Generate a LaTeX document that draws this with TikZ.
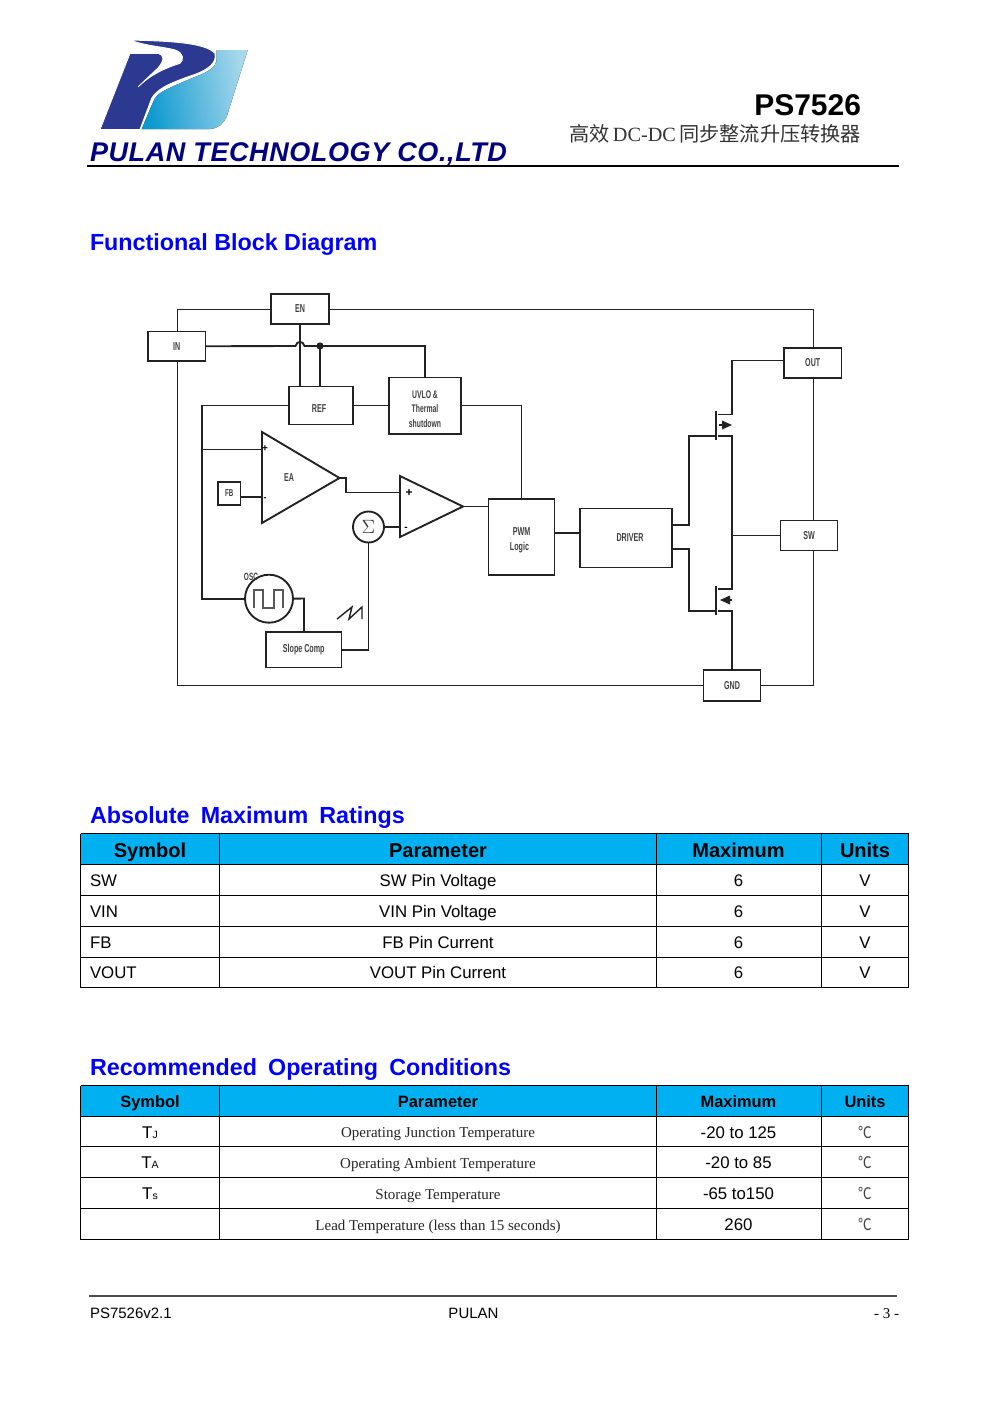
\documentclass[tikz,border=0pt]{standalone}
\usepackage{fontspec}
\setmainfont{Liberation Sans}
\newfontfamily\serf{Liberation Serif}
\newfontfamily\cjk{Noto Sans CJK SC}
\newfontfamily\narrowf[FakeStretch=0.62]{Liberation Sans}
\def\u{0.75pt}
\newcommand{\fs}[1]{\fontsize{\fpeval{#1*0.75}pt}{\fpeval{#1*0.9}pt}\selectfont}
\definecolor{hdr}{HTML}{00B0F0}
\definecolor{navyt}{HTML}{000080}
\definecolor{logod}{HTML}{2B3990}
\definecolor{ln}{HTML}{222222}
\definecolor{logoa}{HTML}{0B98CF}
\definecolor{logob}{HTML}{1A9DD2}
\definecolor{logoc}{HTML}{A8D8EC}
\tikzset{
  txt/.style={inner sep=0,outer sep=0,anchor=base},
  txtl/.style={inner sep=0,outer sep=0,anchor=base west},
  txtr/.style={inner sep=0,outer sep=0,anchor=base east},
  heading/.style={txtl,text=blue,font=\fs{23.3}\bfseries},
  hd1/.style={txt,font=\fs{20}\bfseries},
  hd2/.style={txt,font=\fs{16.4}\bfseries},
  bodyc/.style={txt,font=\fs{16.8}},
  bodyl/.style={txtl,font=\fs{16.8}},
  sercell/.style={txt,font=\fs{15}\serf,text=black!85},
  unitc/.style={txt,font=\fs{16}\cjk\addfontfeature{FakeStretch=0.85},text=black!75},
  dbox/.style={draw=ln,line width=1.4pt,fill=white,inner sep=0,outer sep=0,align=center,font=\fs{11.5}\narrowf\bfseries,text=black!75},
  wire/.style={draw=ln,line width=1.4pt,line join=miter},
  opamp/.style={draw=ln,line width=1.4pt,fill=white,line join=miter},
  tline/.style={draw=black,line width=0.85pt},
  tsym/.style={txt,font=\fs{17}},
}
\begin{document}
\begin{tikzpicture}[x=0.75pt,y=-0.75pt]
\path[use as bounding box,fill=white] (0,0) rectangle (991,1403);

% logo
\fill[left color=logoa,middle color=logob,right color=logoc,shading angle=100]
 (216.7,50) -- (247.7,50) -- (226.7,116.7) .. controls (223,124) and (219,128) .. (210,129)
 -- (141.7,129) -- (153.3,101.7) .. controls (157,93) and (162,91) .. (191.7,78.3)
 .. controls (205,73) and (217,69) .. (216.7,58) -- cycle;
\filldraw[fill=logod,draw=white,line width=0.7pt] (130,40) .. controls (165,41) and (205,42) .. (215,53.3)
 .. controls (217,62) and (210,70) .. (188.3,76.7)
 .. controls (165,85) and (157,90) .. (151.7,98.3) -- (140,129.5) -- (100,129.5) -- (130,53.3) -- (158.3,53.3)
 .. controls (164,55) and (165,60) .. (158,68) -- (138.3,86.7)
 .. controls (150,75) and (165,68) .. (180,63.3)
 .. controls (184,60) and (184,53) .. (175,50)
 .. controls (165,47) and (145,46) .. (130,40) -- cycle;
\node[txtl,text=navyt] (co) at (90,161.5) {\fs{27}\addfontfeature{LetterSpace=2.2}\bfseries\itshape PULAN TECHNOLOGY CO.,LTD};
\node[txtr] (ps) at (861,115.5) {\fs{30}\bfseries PS7526};
\node[txtr,text=black!80] (sub) at (861,141) {\fs{20.2}\cjk 高效\,{\serf DC-DC}\,同步整流升压转换器};
\draw[line width=1.5pt] (87,166) -- (899,166);

\node[heading] (h1) at (90,250) {Functional Block Diagram};
\node[heading] (h2) at (90,823) {Absolute\hspace{0.2em} Maximum\hspace{0.2em} Ratings};
\node[heading] (h3) at (90,1075) {Recommended\hspace{0.2em} Operating\hspace{0.2em} Conditions};

% block diagram
\draw[wire,line width=1pt] (177.5,309.5) rectangle (813.5,685.5);
\node[dbox,minimum width=58*\u,minimum height=30*\u] (EN) at (300,309) {EN};
\node[dbox,minimum width=57.5*\u,minimum height=29.5*\u] (IN) at (176.75,346.25) {IN};
\node[dbox,minimum width=64*\u,minimum height=38*\u] (REF) at (321,405.5) {\raisebox{-5.25pt}[0pt][0pt]{REF\hspace*{3pt}}};
\node[dbox,minimum width=72*\u,minimum height=56.5*\u,font=\fs{11}\narrowf\bfseries] (UVLO) at (425,405.75) {\mbox{}\\[0.6pt]UVLO \&\\[1pt]Thermal\\[1pt]shutdown};
\node[dbox,minimum width=22.5*\u,minimum height=23*\u,font=\fs{10}\narrowf\bfseries] (FB) at (229.25,493.5) {FB};
\node[dbox,minimum width=66*\u,minimum height=76*\u,font=\fs{11.5}\narrowf\bfseries] (PWM) at (521.5,537) {\mbox{}\\[0.2pt]PWM\hspace*{3pt}\\[1pt]Logic\hspace*{3pt}};
\node[dbox,minimum width=92*\u,minimum height=59*\u] (DRV) at (626,538) {\hspace*{6pt}DRIVER};
\node[dbox,minimum width=57.5*\u,minimum height=30*\u] (OUT) at (812.75,363) {OUT};
\node[dbox,minimum width=57*\u,minimum height=30*\u] (SW) at (809,535.5) {SW};
\node[dbox,minimum width=57*\u,minimum height=31*\u] (GND) at (732,685.5) {GND};
\node[dbox,minimum width=75.5*\u,minimum height=35.5*\u] (SL) at (303.75,649.75) {Slope Comp};
\node[dbox,circle,minimum size=31*\u] (SUM) at (368.5,527) {\fs{19}$\Sigma$};
\node[dbox,circle,minimum size=48*\u] (OSC) at (269,598.7) {};
\node[txt,font=\fs{10.5}\narrowf\bfseries,text=black!75] (osct) at (251,580) {OSC};

% amplifiers
\coordinate (eaT) at (262,432); \coordinate (eaB) at (262,523); \coordinate (eaO) at (339.5,478);
\coordinate (cpT) at (400,476); \coordinate (cpB) at (400,537); \coordinate (cpO) at (463,506.5);
\coordinate (eaP) at (262,449.5); \coordinate (eaM) at (262,497);
\coordinate (cpP) at (400,492.5); \coordinate (cpM) at (400,527);
\draw[opamp] (eaT) -- (eaO) -- (eaB) -- cycle;
\draw[opamp] (cpT) -- (cpO) -- (cpB) -- cycle;
\node[txt,font=\fs{11.5}\narrowf\bfseries,text=black!75] (ealb) at (289,481) {EA};
\node[txt,font=\fs{10}\bfseries] (p1) at (265,451.5) {+};
\node[txt,font=\fs{9}\bfseries] (m1) at (265,500) {-};
\node[txt,font=\fs{12}\bfseries] (p2) at (409,496) {+};
\node[txt,font=\fs{10}\bfseries] (m2) at (406,530) {-};

% top wires
\coordinate (jl) at (295.5,346); \coordinate (jr) at (304.5,346);
\coordinate (dot) at (320,346);
\coordinate (uv) at (425,346);
\draw[wire] (IN.east) -- (jl) .. controls +(1.5,-5.5) and +(-1.5,-5.5) .. (jr) -- (uv) -- (uv |- UVLO.north);
\draw[wire] (EN.south) -- (EN.south |- REF.north);
\draw[wire] (dot) -- (dot |- REF.north);
\fill[ln] (dot) circle[radius=2.7pt];
\draw[wire] (REF.east) -- (UVLO.west |- REF.east);
\coordinate (lft) at (202,405.5);
\draw[wire] (REF.west) -- (lft) |- (OSC.west);
\coordinate (lj) at (202,449.5);
\draw[wire] (lj) -- (eaP);
\draw[wire] (FB.east |- eaM) -- (eaM);
\coordinate (ea1) at (346,478); \coordinate (ea2) at (346,492.5);
\draw[wire] (eaO) -- (ea1) -- (ea2) -- (cpP);
\draw[wire] (SUM.east) -- (cpM);
\draw[wire] (cpO) -- (PWM.west |- cpO);
\draw[wire] (UVLO.east |- 0,405.5) -| (PWM.north);
\draw[wire] (PWM.east |- 0,533) -- (DRV.west |- 0,533);
\coordinate (osr) at (304,598.5);
\draw[wire] (OSC.east) -- (osr) -- (osr |- SL.north);
\draw[wire] (SL.east) -| (SUM.south);
% square wave and sawtooth
\draw[draw=black!65,line width=1.1pt] (254,608) -- (254,590) -- (263,590) -- (263,608) -- (274,608) -- (274,590) -- (283,590) -- (283,608);
\draw[line width=1.05pt,draw=ln] (337,619) -- (352,607) -- (349,619) -- (362,607) -- (362,619);

% MOSFETs
\coordinate (g1) at (716,436); \coordinate (g2) at (716,611);
\coordinate (d1) at (732,414.5); \coordinate (s1) at (732,436);
\coordinate (d2) at (732,589); \coordinate (s2) at (732,611);
\coordinate (a) at (689,525); \coordinate (b) at (689,549);
\draw[wire] (DRV.east |- a) -- (a) |- (g1);
\draw[wire] (DRV.east |- b) -- (b) |- (g2);
\draw[wire,line width=1.4pt] (716,411) -- (716,440);
\draw[wire,line width=1.4pt] (716,586) -- (716,615);
\draw[wire] (OUT.west |- 0,360.5) -| (d1) -- (718,414.5);
\draw[wire] (718,436) -- (s1) -- (d2) -- (718,589);
\draw[wire] (718,611) -- (s2) -- (GND.north -| s2);
\draw[wire] (s1 |- SW.west) -- (SW.west);
\draw[wire] (719,425) -- (724,425);
\fill[ln] (732,425) -- (722,420.5) -- (722,429.5) -- cycle;
\draw[wire] (726,600) -- (732,600);
\fill[ln] (720,600) -- (730,595.5) -- (730,604.5) -- cycle;

% table 1
\fill[hdr] (80.5,833.5) rectangle (908.5,864.5);
\foreach \y in {833.5,864.5,895.5,926.5,957.5,987.5} \draw[tline] (80.5,\y) -- (908.5,\y);
\foreach \x in {80.5,219.5,656.5,821.5,908.5} \draw[tline] (\x,833.5) -- (\x,987.5);
\node[hd1] (a1) at (150,857) {Symbol};
\node[hd1] (a2) at (438,857) {Parameter};
\node[hd1] (a3) at (738.5,857) {Maximum};
\node[hd1] (a4) at (865,857) {Units};
\node[bodyl] (b1) at (90,886) {SW};
\node[bodyc] (b2) at (438,886) {SW Pin Voltage};
\node[bodyc] (b3) at (738.5,886) {6};
\node[bodyc] (b4) at (865,886) {V};
\node[bodyl] (c1) at (90,917) {VIN};
\node[bodyc] (c2) at (438,917) {VIN Pin Voltage};
\node[bodyc] (c3) at (738.5,917) {6};
\node[bodyc] (c4) at (865,917) {V};
\node[bodyl] (d1t) at (90,948) {FB};
\node[bodyc] (d2t) at (438,948) {FB Pin Current};
\node[bodyc] (d3t) at (738.5,948) {6};
\node[bodyc] (d4t) at (865,948) {V};
\node[bodyl] (e1) at (90,978) {VOUT};
\node[bodyc] (e2) at (438,978) {VOUT Pin Current};
\node[bodyc] (e3) at (738.5,978) {6};
\node[bodyc] (e4) at (865,978) {V};

% table 2
\fill[hdr] (80.5,1085.5) rectangle (908.5,1116.5);
\foreach \y in {1085.5,1116.5,1146.5,1177.5,1208.5,1239.5} \draw[tline] (80.5,\y) -- (908.5,\y);
\foreach \x in {80.5,219.5,656.5,821.5,908.5} \draw[tline] (\x,1085.5) -- (\x,1239.5);
\node[hd2] (f1) at (150,1107) {Symbol};
\node[hd2] (f2) at (438,1107) {Parameter};
\node[hd2] (f3) at (738.5,1107) {Maximum};
\node[hd2] (f4) at (865,1107) {Units};
\node[tsym] (g1t) at (150,1138) {T{\fs{10.5}J}};
\node[sercell] (g2t) at (438,1137) {Operating Junction Temperature};
\node[bodyc] (g3t) at (738.5,1138) {-20 to 125};
\node[unitc] (g4t) at (865,1138) {℃};
\node[tsym] (h1t) at (150,1168.5) {T{\fs{10.5}A}};
\node[sercell] (h2t) at (438,1168) {Operating Ambient Temperature};
\node[bodyc] (h3t) at (738.5,1168) {-20 to 85};
\node[unitc] (h4t) at (865,1168.5) {℃};
\node[tsym] (i1t) at (150,1199.5) {T{\fs{10.5}s}};
\node[sercell] (i2t) at (438,1199) {Storage Temperature};
\node[bodyc] (i3t) at (738.5,1199) {-65 to150};
\node[unitc] (i4t) at (865,1199.5) {℃};
\node[sercell] (j2t) at (438,1230) {Lead Temperature (less than 15 seconds)};
\node[bodyc] (j3t) at (738.5,1230.5) {260};
\node[unitc] (j4t) at (865,1230.5) {℃};

% footer
\draw[draw=black!70,line width=1.1pt] (89,1296) -- (897,1296);
\node[txtl,font=\fs{15}] (ft1) at (90,1318) {PS7526v2.1};
\node[txt,font=\fs{15}] (ft2) at (473.5,1318) {PULAN};
\node[txtr,font=\fs{15}\serf] (ft3) at (899,1318) {- 3 -};
\end{tikzpicture}
\end{document}
